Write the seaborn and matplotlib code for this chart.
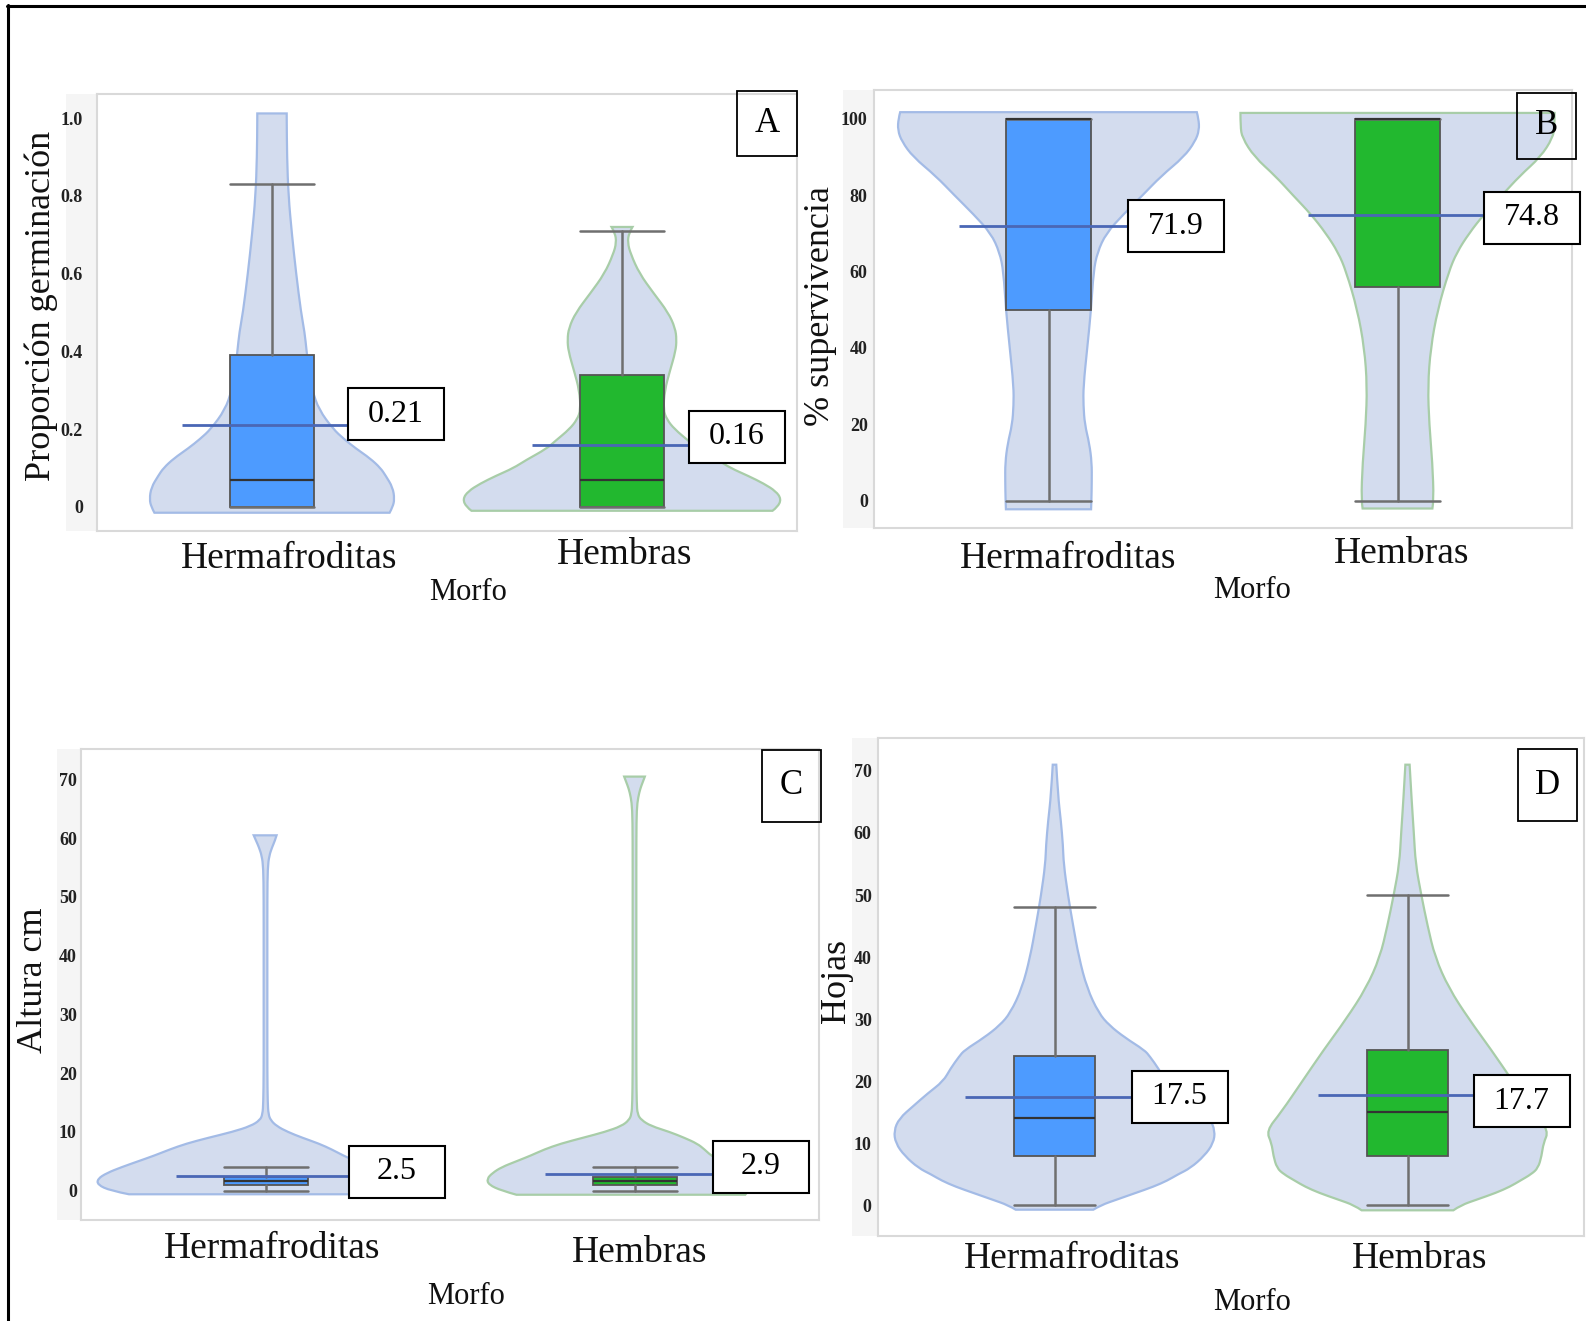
import matplotlib
matplotlib.use("Agg")
import matplotlib.pyplot as plt
from matplotlib.patches import Rectangle, PathPatch
from matplotlib.path import Path
from matplotlib.lines import Line2D
from matplotlib.transforms import ScaledTranslation
import seaborn as sns

W, H, DPI = 1586, 1321, 100

groups = ["Hermafroditas", "Hembras"]

# ---------------- A: proporción de germinación ----------------
germ_whislo = [0.0, 0.0]
germ_q1 = [0.0, 0.0]
germ_med = [0.07, 0.07]
germ_q3 = [0.39, 0.34]
germ_whishi = [0.83, 0.71]
germ_mean = [0.21, 0.16]
germ_ticks = [0, 0.2, 0.4, 0.6, 0.8, 1.0]
germ_ticklabels = ["0", "0.2", "0.4", "0.6", "0.8", "1.0"]
# violin outline: height level and half width
germ_herm_y = [-0.015, 0.0, 0.02, 0.05, 0.08, 0.10, 0.125, 0.15, 0.175, 0.20, 0.25, 0.30,
               0.35, 0.40, 0.45, 0.50, 0.60, 0.70, 0.80, 0.90, 1.00, 1.012]
germ_herm_w = [0.336, 0.345, 0.35, 0.345, 0.325, 0.31, 0.28, 0.24, 0.205, 0.175, 0.134, 0.115,
               0.105, 0.099, 0.093, 0.083, 0.069, 0.057, 0.047, 0.043, 0.042, 0.042]
germ_hemb_y = [-0.01, 0.0, 0.02, 0.04, 0.06, 0.08, 0.10, 0.12, 0.15, 0.17, 0.20, 0.225, 0.25,
               0.30, 0.35, 0.40, 0.43, 0.46, 0.50, 0.55, 0.60, 0.65, 0.68, 0.705, 0.72]
germ_hemb_w = [0.43, 0.445, 0.455, 0.44, 0.405, 0.36, 0.31, 0.275, 0.215, 0.19, 0.15, 0.128, 0.118,
               0.122, 0.137, 0.153, 0.156, 0.152, 0.132, 0.09, 0.05, 0.025, 0.016, 0.02, 0.03]

# ---------------- B: % supervivencia ----------------
surv_whislo = [0, 0]
surv_q1 = [50, 56]
surv_med = [100, 100]
surv_q3 = [100, 100]
surv_whishi = [100, 100]
surv_mean = [71.9, 74.8]
surv_ticks = [0, 20, 40, 60, 80, 100]
surv_ticklabels = ["0", "20", "40", "60", "80", "100"]
surv_herm_y = [-2.2, 0, 5, 10, 15, 20, 25, 30, 40, 50, 60, 65, 70, 75, 80, 85, 90, 94, 97, 100, 101.7]
surv_herm_w = [0.122, 0.123, 0.124, 0.124, 0.117, 0.104, 0.10, 0.10, 0.111, 0.122, 0.129, 0.14,
               0.165, 0.215, 0.27, 0.323, 0.388, 0.42, 0.432, 0.43, 0.425]
surv_hemb_y = [-2, 0, 10, 20, 30, 40, 50, 60, 65, 70, 75, 80, 85, 90, 95, 98, 101.5]
surv_hemb_w = [0.10, 0.104, 0.10, 0.091, 0.087, 0.095, 0.115, 0.147, 0.17, 0.205, 0.248, 0.30,
               0.35, 0.41, 0.445, 0.45, 0.45]

# ---------------- C: altura (cm) ----------------
height_whislo = [0, 0]
height_q1 = [0.9, 1.0]
height_med = [1.6, 1.7]
height_q3 = [2.3, 2.4]
height_whishi = [4.0, 4.0]
height_mean = [2.5, 2.9]
height_ticks = [0, 10, 20, 30, 40, 50, 60, 70]
height_ticklabels = ["0", "10", "20", "30", "40", "50", "60", "70"]
height_herm_y = [-0.62, 0, 1, 2, 3, 4, 5, 6, 7, 8, 9, 10, 11, 12, 13, 15, 20, 30, 40, 50,
                 55, 57, 58.5, 59.5, 60.5]
height_herm_wl = [0.37, 0.42, 0.455, 0.455, 0.43, 0.39, 0.345, 0.30, 0.26, 0.215, 0.155, 0.09,
                  0.04, 0.015, 0.008, 0.006, 0.005, 0.005, 0.005, 0.005, 0.006, 0.01, 0.018,
                  0.025, 0.032]
height_herm_wr = [0.32, 0.33, 0.33, 0.32, 0.30, 0.275, 0.245, 0.21, 0.18, 0.145, 0.10, 0.06,
                  0.03, 0.014, 0.008, 0.006, 0.005, 0.005, 0.005, 0.005, 0.006, 0.01, 0.018,
                  0.025, 0.03]
height_hemb_y = [-0.7, 0, 1, 2, 3, 4, 5, 6, 7, 8, 9, 10, 11, 12, 13, 15, 20, 30, 40, 50, 60,
                 65, 67, 68.5, 69.5, 70.5]
height_hemb_wl = [0.32, 0.36, 0.395, 0.40, 0.385, 0.36, 0.32, 0.28, 0.245, 0.20, 0.14, 0.08,
                  0.035, 0.015, 0.008, 0.006, 0.005, 0.005, 0.005, 0.005, 0.005, 0.006, 0.01,
                  0.016, 0.022, 0.028]
height_hemb_wr = [0.30, 0.31, 0.31, 0.30, 0.28, 0.26, 0.235, 0.207, 0.19, 0.17, 0.135, 0.095,
                  0.045, 0.019, 0.008, 0.006, 0.005, 0.005, 0.005, 0.005, 0.005, 0.006, 0.01,
                  0.016, 0.022, 0.028]

# ---------------- D: hojas ----------------
leaf_whislo = [0, 0]
leaf_q1 = [8, 8]
leaf_med = [14, 15]
leaf_q3 = [24, 25]
leaf_whishi = [48, 50]
leaf_mean = [17.5, 17.7]
leaf_ticks = [0, 10, 20, 30, 40, 50, 60, 70]
leaf_ticklabels = ["0", "10", "20", "30", "40", "50", "60", "70"]
leaf_herm_y = [-0.7, 0, 1, 2, 3, 4, 5, 6, 8, 10, 12, 14, 16, 18, 20, 22, 24, 25, 27, 29, 31,
               35, 40, 45, 50, 55, 58, 62, 66, 71]
leaf_herm_w = [0.11, 0.13, 0.18, 0.23, 0.28, 0.32, 0.35, 0.385, 0.425, 0.45, 0.455, 0.44,
               0.40, 0.36, 0.315, 0.295, 0.27, 0.255, 0.20, 0.155, 0.125, 0.092, 0.069,
               0.053, 0.038, 0.026, 0.024, 0.018, 0.01, 0.005]
leaf_hemb_y = [-0.8, 0, 1, 2, 3, 4, 5, 6, 8, 10, 12, 15, 20, 25, 30, 35, 40, 45, 50, 55, 60,
               65, 71]
leaf_hemb_w = [0.13, 0.15, 0.2, 0.25, 0.29, 0.32, 0.35, 0.37, 0.38, 0.385, 0.40, 0.358, 0.298,
               0.238, 0.174, 0.117, 0.078, 0.057, 0.039, 0.023, 0.018, 0.012, 0.006]

# ---------------- styling ----------------
sns.set_theme(style="white")
plt.rcParams["font.family"] = ["Liberation Serif", "DejaVu Serif"]

palette = sns.color_palette(["#4d9bff", "#22b82f"])
violin_fill = "#d3dcee"
violin_edges = ["#a3bbe6", "#a8cda8"]
mean_color = "#4a67b5"
frame_color = "#d9d9d9"
band_color = "#f5f5f5"

panels = [
    dict(letter="A", rect=(97, 94, 797, 531), ylim=(-0.062, 1.062),
         ticks=germ_ticks, ticklabels=germ_ticklabels, ylabel="Proporción germinación",
         ylabel_xy=(41, 306), morfo_xy=(468, 592), letter_box=(737, 91, 797, 156),
         band_x=66, ypad=10, xpad=4.7, xshift=((17, -4), (3, 0)), box_px=84,
         label_dx=(76, 67), label_dy=(11, 8),
         stats=(germ_whislo, germ_q1, germ_med, germ_q3, germ_whishi), means=germ_mean,
         violins=[(germ_herm_y, germ_herm_w, None), (germ_hemb_y, germ_hemb_w, None)]),
    dict(letter="B", rect=(874, 90, 1572, 528), ylim=(-7.1, 107.5),
         ticks=surv_ticks, ticklabels=surv_ticklabels, ylabel="% supervivencia",
         ylabel_xy=(820, 306), morfo_xy=(1252, 591), letter_box=(1517, 93, 1576, 159),
         band_x=843, ypad=4.5, xpad=6, xshift=((20, -5), (4, 0)), box_px=85,
         label_dx=(79, 86), label_dy=(0, -3),
         stats=(surv_whislo, surv_q1, surv_med, surv_q3, surv_whishi), means=surv_mean,
         violins=[(surv_herm_y, surv_herm_w, None), (surv_hemb_y, surv_hemb_w, None)]),
    dict(letter="C", rect=(81, 749, 819, 1220), ylim=(-5.0, 75.2),
         ticks=height_ticks, ticklabels=height_ticklabels, ylabel="Altura cm",
         ylabel_xy=(34, 980), morfo_xy=(466, 1296), letter_box=(762, 750, 821, 822),
         band_x=57, ypad=3, xpad=11.5, xshift=((7, 4), (5, 0)), box_px=84,
         label_dx=(83, 78), label_dy=(4, 7),
         stats=(height_whislo, height_q1, height_med, height_q3, height_whishi),
         means=height_mean,
         violins=[(height_herm_y, height_herm_wl, height_herm_wr),
                  (height_hemb_y, height_hemb_wl, height_hemb_wr)]),
    dict(letter="D", rect=(878, 738, 1584, 1236), ylim=(-4.94, 75.3),
         ticks=leaf_ticks, ticklabels=leaf_ticklabels, ylabel="Hojas",
         ylabel_xy=(836, 981), morfo_xy=(1252, 1303), letter_box=(1518, 749, 1577, 821),
         band_x=852, ypad=4.5, xpad=4, xshift=((18, 0), (12, 0)), box_px=81,
         label_dx=(77, 66), label_dy=(0, -6),
         stats=(leaf_whislo, leaf_q1, leaf_med, leaf_q3, leaf_whishi), means=leaf_mean,
         violins=[(leaf_herm_y, leaf_herm_w, None), (leaf_hemb_y, leaf_hemb_w, None)]),
]

fig = plt.figure(figsize=(W / DPI, H / DPI), dpi=DPI)
fig.patch.set_facecolor("white")


def fx(x):
    return x / W


def fy(y):
    return 1 - y / H


def curved_side(pts):
    """Quadratic-Bezier run through a list of outline points (ends kept exact)."""
    n = len(pts)
    verts, codes = [pts[0]], []
    if n == 2:
        return verts + [pts[1]], [Path.LINETO]
    for k in range(1, n - 1):
        if k < n - 2:
            end = ((pts[k][0] + pts[k + 1][0]) / 2, (pts[k][1] + pts[k + 1][1]) / 2)
        else:
            end = pts[n - 1]
        verts += [pts[k], end]
        codes += [Path.CURVE3, Path.CURVE3]
    return verts, codes


def violin_path(center, ys, wl, wr):
    right = [(center + w, y) for y, w in zip(ys, wr)]
    left = [(center - w, y) for y, w in zip(ys, wl)][::-1]
    vr, cr = curved_side(right)
    vl, cl = curved_side(left)
    verts = vr + vl + [vr[0]]
    codes = [Path.MOVETO] + cr + [Path.LINETO] + cl + [Path.CLOSEPOLY]
    return Path(verts, codes)


for p in panels:
    x0, y0, x1, y1 = p["rect"]
    ax = fig.add_axes([fx(x0), fy(y1), (x1 - x0) / W, (y1 - y0) / H])
    ax.set_facecolor("white")
    ax.set_xlim(-0.5, 1.5)
    ax.set_ylim(*p["ylim"])
    px_x = (x1 - x0) / 2.0
    px_y = (y1 - y0) / (p["ylim"][1] - p["ylim"][0])

    # light band behind the tick labels
    fig.patches.append(Rectangle((fx(p["band_x"]), fy(y1)), (x0 - p["band_x"]) / W,
                                 (y1 - y0) / H, transform=fig.transFigure,
                                 facecolor=band_color, edgecolor="none", zorder=-1))

    # violins
    for i, (vy, wl, wr) in enumerate(p["violins"]):
        wr = wl if wr is None else wr
        ax.add_patch(PathPatch(violin_path(i, vy, wl, wr), facecolor=violin_fill,
                               edgecolor=violin_edges[i], linewidth=1.6, zorder=1))

    # boxes from the five-number summaries
    lo, q1, med, q3, hi = p["stats"]
    bxp_stats = [dict(whislo=lo[i], q1=q1[i], med=med[i], q3=q3[i], whishi=hi[i],
                      label=groups[i]) for i in range(2)]
    bw = p["box_px"] / px_x
    art = ax.bxp(bxp_stats, positions=[0, 1], widths=bw, capwidths=bw,
                 patch_artist=True, showfliers=False, manage_ticks=False,
                 boxprops=dict(edgecolor="#555555", linewidth=1.3),
                 medianprops=dict(color="#333333", linewidth=1.6),
                 whiskerprops=dict(color="#6f6f6f", linewidth=1.8),
                 capprops=dict(color="#6f6f6f", linewidth=1.8), zorder=2)
    for patch, col in zip(art["boxes"], palette):
        patch.set_facecolor(col)

    # mean lines with their labelled boxes
    for i, m in enumerate(p["means"]):
        xl = i - 90 / px_x
        xr = i + p["label_dx"][i] / px_x
        ax.hlines(m, xl, xr, color=mean_color, linewidth=2.0, zorder=3)
        bwid = 96 / px_x
        bht = 52 / px_y
        yc = m + p["label_dy"][i] / px_y
        ax.add_patch(Rectangle((xr, yc - bht / 2), bwid, bht, facecolor="white",
                               edgecolor="black", linewidth=1.5, zorder=4, clip_on=False))
        ax.text(xr + bwid / 2, yc, f"{m:g}", ha="center", va="center", fontsize=23,
                color="black", zorder=5, clip_on=False)

    ax.set_yticks(p["ticks"])
    ax.set_yticklabels(p["ticklabels"], fontsize=13, fontweight="bold", color="#222222")
    ax.set_xticks([0, 1])
    ax.set_xticklabels(groups, fontsize=27, color="#111111")
    ax.tick_params(axis="y", length=0, pad=p["ypad"])
    ax.tick_params(axis="x", length=0, pad=p["xpad"])
    for lab, (dx, dy) in zip(ax.get_xticklabels(), p["xshift"]):
        lab.set_transform(lab.get_transform() +
                          ScaledTranslation(dx / DPI, dy / DPI, fig.dpi_scale_trans))
    for s in ax.spines.values():
        s.set_color(frame_color)
        s.set_linewidth(1.5)
    ax.grid(False)

    fig.text(fx(p["ylabel_xy"][0]), fy(p["ylabel_xy"][1]), p["ylabel"], rotation=90,
             ha="center", va="center", fontsize=26, color="#111111")
    fig.text(fx(p["morfo_xy"][0]), fy(p["morfo_xy"][1]), "Morfo", ha="center",
             va="center", fontsize=22, color="#111111")

    lx0, ly0, lx1, ly1 = p["letter_box"]
    fig.patches.append(Rectangle((fx(lx0), fy(ly1)), (lx1 - lx0) / W, (ly1 - ly0) / H,
                                 transform=fig.transFigure, facecolor="none",
                                 edgecolor="black", linewidth=1.3, zorder=5))
    fig.text(fx((lx0 + lx1) / 2), fy((ly0 + ly1) / 2), p["letter"], ha="center",
             va="center", fontsize=25, color="black", zorder=6)

# outer frame (top and left edges)
fig.add_artist(Line2D([fx(7), 1], [fy(6), fy(6)], color="black", linewidth=2.2))
fig.add_artist(Line2D([fx(8), fx(8)], [fy(5), 0], color="black", linewidth=2.2))

fig.savefig("out.png", dpi=DPI)
